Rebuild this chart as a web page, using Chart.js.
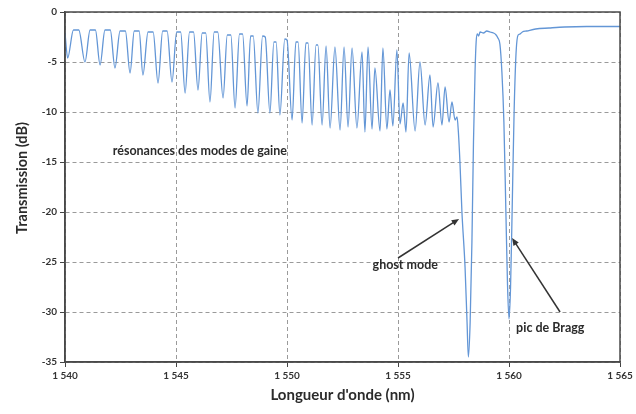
<!DOCTYPE html>
<html>
<head>
<meta charset="utf-8">
<script src="https://cdn.jsdelivr.net/npm/chart.js@4.4.1/dist/chart.umd.min.js"></script>
<style>
  html, body { margin: 0; padding: 0; background: #fff; }
  #wrap { width: 636px; height: 414px; }
</style>
</head>
<body>
<div id="wrap"><canvas id="spectrum"></canvas></div>
<script>
// Longueur d'onde (nm) et transmission (dB)
const wavelength = [
  1540.00, 1540.12, 1540.38, 1540.62, 1540.90, 1541.13, 1541.37, 1541.58, 1541.80, 1542.04,
  1542.25, 1542.48, 1542.72, 1542.93, 1543.12, 1543.34, 1543.51, 1543.74, 1543.97, 1544.19,
  1544.40, 1544.60, 1544.82, 1545.03, 1545.21, 1545.41, 1545.61, 1545.79, 1545.99, 1546.18,
  1546.34, 1546.53, 1546.72, 1546.88, 1547.12, 1547.31, 1547.47, 1547.66, 1547.86, 1548.00,
  1548.20, 1548.36, 1548.48, 1548.69, 1548.90, 1549.02, 1549.23, 1549.41, 1549.51, 1549.68,
  1549.90, 1550.00, 1550.23, 1550.40, 1550.50, 1550.68, 1550.85, 1550.95, 1551.13, 1551.31,
  1551.39, 1551.58, 1551.76, 1551.94, 1552.16, 1552.39, 1552.57, 1552.75, 1552.93, 1553.15,
  1553.38, 1553.51, 1553.65, 1553.83, 1553.96, 1554.19, 1554.32, 1554.50, 1554.64, 1554.77,
  1554.95, 1555.09, 1555.23, 1555.36, 1555.50, 1555.77, 1555.99, 1556.22, 1556.44, 1556.58,
  1556.80, 1556.98, 1557.12, 1557.30, 1557.43, 1557.57, 1557.66,
  // ghost mode
  1557.72, 1557.79, 1557.88, 1558.02, 1558.11, 1558.17, 1558.25, 1558.33, 1558.40, 1558.47,
  1558.52, 1558.57, 1558.63, 1558.70, 1558.85, 1559.00, 1559.15, 1559.30, 1559.42, 1559.50,
  // pic de Bragg
  1559.59, 1559.68, 1559.77, 1559.86, 1559.93, 1560.00, 1560.07, 1560.14, 1560.23, 1560.32,
  1560.41, 1560.50, 1560.60, 1560.80, 1561.20, 1561.80, 1562.50, 1563.50, 1565.00
];
const transmission = [
  -2.1, -4.6, -1.8, -1.8, -5.0, -1.8, -1.8, -5.3, -1.8, -1.8,
  -5.6, -1.9, -1.9, -6.1, -1.9, -1.9, -6.3, -2.0, -2.0, -7.1,
  -1.9, -1.9, -7.0, -2.0, -2.0, -8.1, -2.0, -2.0, -7.8, -2.1,
  -2.1, -9.0, -2.0, -2.0, -8.6, -2.3, -2.3, -9.6, -2.2, -2.2,
  -9.4, -2.4, -2.4, -10.1, -2.4, -2.5, -10.1, -3.0, -3.0, -10.3,
  -2.7, -2.8, -10.8, -3.0, -3.0, -11.1, -3.1, -3.1, -11.3, -3.3,
  -3.3, -11.3, -3.4, -11.6, -3.5, -11.8, -3.5, -11.5, -3.6, -11.6,
  -4.0, -12.0, -3.5, -11.7, -5.6, -11.9, -3.6, -11.7, -7.8, -11.4,
  -3.8, -11.2, -9.1, -12.0, -4.1, -11.9, -5.0, -11.3, -6.3, -11.5,
  -7.1, -11.3, -7.5, -11.0, -9.0, -10.8, -10.5,
  -12.0, -15.0, -20.0, -25.5, -31.0, -34.5, -31.0, -23.0, -13.0, -6.0,
  -3.0, -2.2, -2.4, -2.0, -2.1, -1.9, -2.0, -2.1, -2.3, -2.6,
  -3.2, -6.0, -11.0, -20.0, -27.0, -30.7, -27.5, -20.0, -10.0, -4.0,
  -2.3, -2.2, -2.0, -1.9, -1.7, -1.6, -1.5, -1.45, -1.45
];

const xTicks = [1540, 1545, 1550, 1555, 1560, 1565];
const yTicks = [0, -5, -10, -15, -20, -25, -30, -35];

const labelFont = 'Lato, "Liberation Sans", sans-serif';
const textColor = '#2b2b2b';

// notes drawn on top of the chart, anchored in data units
const notes = [
  { text: 'résonances des modes de gaine', x: 1542.15, y: -13.9, align: 'left' },
  { text: 'ghost mode', x: 1556.8, y: -25.3, align: 'right' },
  { text: 'pic de Bragg', x: 1560.32, y: -31.6, align: 'left' }
];
const arrows = [
  { from: [1555.0, -24.6], to: [1557.75, -20.7] },
  { from: [1562.3, -30.0], to: [1560.14, -22.6] }
];
const yTitle = 'Transmission (dB)';

const frameAndNotes = {
  id: 'frameAndNotes',
  afterDraw(chart) {
    const ctx = chart.ctx;
    const { left, top, right, bottom } = chart.chartArea;
    const xs = chart.scales.x, ys = chart.scales.y;
    ctx.save();
    ctx.strokeStyle = '#4a4a4a';
    ctx.lineWidth = 1.5;
    ctx.strokeRect(left, top, right - left, bottom - top);

    ctx.fillStyle = textColor;
    ctx.font = 'bold 12.5px ' + labelFont;
    ctx.textBaseline = 'middle';
    notes.forEach(n => {
      ctx.textAlign = n.align;
      ctx.fillText(n.text, xs.getPixelForValue(n.x), ys.getPixelForValue(n.y));
    });

    // y axis title, a little above the middle as in the figure
    ctx.save();
    ctx.translate(22, ys.getPixelForValue(-16.6));
    ctx.rotate(-Math.PI / 2);
    ctx.textAlign = 'center';
    ctx.font = 'bold 14.5px ' + labelFont;
    ctx.fillText(yTitle, 0, 0);
    ctx.restore();

    ctx.strokeStyle = '#333';
    ctx.fillStyle = '#333';
    ctx.lineWidth = 1.5;
    arrows.forEach(a => {
      const x1 = xs.getPixelForValue(a.from[0]), y1 = ys.getPixelForValue(a.from[1]);
      const x2 = xs.getPixelForValue(a.to[0]), y2 = ys.getPixelForValue(a.to[1]);
      const ang = Math.atan2(y2 - y1, x2 - x1);
      const head = 8;
      ctx.beginPath();
      ctx.moveTo(x1, y1);
      ctx.lineTo(x2 - Math.cos(ang) * head * 0.8, y2 - Math.sin(ang) * head * 0.8);
      ctx.stroke();
      ctx.beginPath();
      ctx.moveTo(x2, y2);
      ctx.lineTo(x2 - head * Math.cos(ang - 0.4), y2 - head * Math.sin(ang - 0.4));
      ctx.lineTo(x2 - head * Math.cos(ang + 0.4), y2 - head * Math.sin(ang + 0.4));
      ctx.closePath();
      ctx.fill();
    });
    ctx.restore();
  }
};

const ctx = document.getElementById('spectrum').getContext('2d');
new Chart(ctx, {
  type: 'line',
  data: {
    datasets: [{
      label: 'Transmission',
      data: wavelength.map((w, i) => ({ x: w, y: transmission[i] })),
      borderColor: '#6396d6',
      borderWidth: 1.3,
      pointRadius: 0,
      cubicInterpolationMode: 'monotone',
      fill: false
    }]
  },
  options: {
    responsive: true,
    maintainAspectRatio: false,
    animation: false,
    layout: { padding: { top: 12, right: 16, bottom: 0, left: 0 } },
    plugins: {
      legend: { display: false },
      tooltip: { enabled: false }
    },
    scales: {
      x: {
        type: 'linear',
        min: 1540,
        max: 1565,
        afterFit: s => { s.height = 52; },
        afterBuildTicks: s => { s.ticks = xTicks.map(v => ({ value: v })); },
        ticks: {
          color: '#333',
          font: { family: labelFont, size: 10, weight: 'bold' },
          padding: 3,
          maxRotation: 0,
          callback: v => String(v).slice(0, 1) + ' ' + String(v).slice(1)
        },
        grid: { color: '#9a9a9a', lineWidth: 1, tickLength: 5, tickColor: '#444' },
        border: { display: true, color: '#4a4a4a', width: 1.5, dash: [4, 3] },
        title: {
          display: true,
          text: "Longueur d'onde (nm)",
          color: textColor,
          font: { family: labelFont, size: 15, weight: 'bold' },
          padding: { top: 0, bottom: 10 }
        }
      },
      y: {
        min: -35,
        max: 0,
        afterFit: s => { s.width = 65; },
        afterBuildTicks: s => { s.ticks = yTicks.map(v => ({ value: v })); },
        ticks: {
          color: '#333',
          font: { family: labelFont, size: 10, weight: 'bold' },
          padding: 3
        },
        grid: { color: '#9a9a9a', lineWidth: 1, tickLength: 5, tickColor: '#444' },
        border: { display: true, color: '#4a4a4a', width: 1.5, dash: [4, 3] },
        title: { display: false }
      }
    }
  },
  plugins: [frameAndNotes]
});
</script>
</body>
</html>
